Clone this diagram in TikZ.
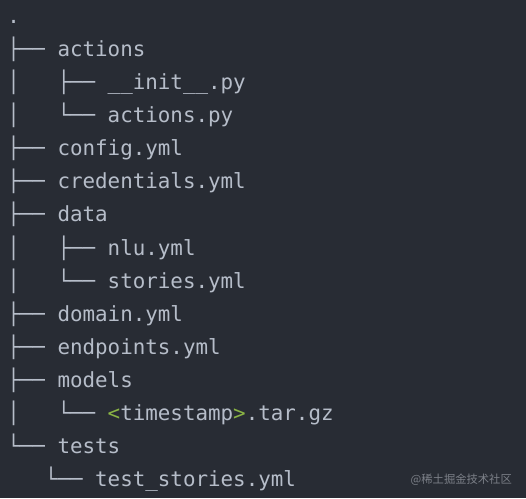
\documentclass[tikz,border=0pt]{standalone}
\usepackage{fontspec}
\newfontfamily\treemono{DejaVu Sans Mono}
\newfontfamily\cjk{Noto Sans CJK SC}
\definecolor{bgc}{HTML}{282C34}
\definecolor{txtc}{HTML}{B6BDC9}
\definecolor{grn}{HTML}{8AB445}
\definecolor{wmc}{HTML}{7C8088}
\tikzset{
  txt/.style={anchor=base west, inner sep=0pt, outer sep=0pt, text=txtc,
    font=\treemono\fontsize{20.85}{24}\selectfont},
  wm/.style={anchor=base east, inner sep=0pt, text=wmc,
    font=\cjk\fontsize{11.3}{13}\selectfont}
}
\newcommand{\cx}[1]{7.3+12.55*#1}
\newcommand{\ry}[1]{498-(57+33*#1)}
\begin{document}
\begin{tikzpicture}[x=1pt,y=1pt]
\fill[bgc] (0,0) rectangle (526,498);
\useasboundingbox (0,0) rectangle (526,498);
% row 0
\node[txt] (dot) at ({\cx{0}},{498-24}) {.};
% row 1
\node[txt] (t1) at ({\cx{0}},{\ry{0}}) {├──};
\node[txt] (n1) at ({\cx{4}},{\ry{0}}) {actions};
% row 2
\node[txt] (v2) at ({\cx{0}},{\ry{1}}) {│};
\node[txt] (t2) at ({\cx{4}},{\ry{1}}) {├──};
\node[txt] (n2) at ({\cx{8}},{\ry{1}}) {\_\_init\_\_.py};
% row 3
\node[txt] (v3) at ({\cx{0}},{\ry{2}}) {│};
\node[txt] (t3) at ({\cx{4}},{\ry{2}}) {└──};
\node[txt] (n3) at ({\cx{8}},{\ry{2}}) {actions.py};
% row 4
\node[txt] (t4) at ({\cx{0}},{\ry{3}}) {├──};
\node[txt] (n4) at ({\cx{4}},{\ry{3}}) {config.yml};
% row 5
\node[txt] (t5) at ({\cx{0}},{\ry{4}}) {├──};
\node[txt] (n5) at ({\cx{4}},{\ry{4}}) {credentials.yml};
% row 6
\node[txt] (t6) at ({\cx{0}},{\ry{5}}) {├──};
\node[txt] (n6) at ({\cx{4}},{\ry{5}}) {data};
% row 7
\node[txt] (v7) at ({\cx{0}},{\ry{6}}) {│};
\node[txt] (t7) at ({\cx{4}},{\ry{6}}) {├──};
\node[txt] (n7) at ({\cx{8}},{\ry{6}}) {nlu.yml};
% row 8
\node[txt] (v8) at ({\cx{0}},{\ry{7}}) {│};
\node[txt] (t8) at ({\cx{4}},{\ry{7}}) {└──};
\node[txt] (n8) at ({\cx{8}},{\ry{7}}) {stories.yml};
% row 9
\node[txt] (t9) at ({\cx{0}},{\ry{8}}) {├──};
\node[txt] (n9) at ({\cx{4}},{\ry{8}}) {domain.yml};
% row 10
\node[txt] (t10) at ({\cx{0}},{\ry{9}}) {├──};
\node[txt] (n10) at ({\cx{4}},{\ry{9}}) {endpoints.yml};
% row 11
\node[txt] (t11) at ({\cx{0}},{\ry{10}}) {├──};
\node[txt] (n11) at ({\cx{4}},{\ry{10}}) {models};
% row 12
\node[txt] (v12) at ({\cx{0}},{\ry{11}}) {│};
\node[txt] (t12) at ({\cx{4}},{\ry{11}}) {└──};
\node[txt] (n12) at ({\cx{8}},{\ry{11}}) {\textcolor{grn}{<}timestamp\textcolor{grn}{>}.tar.gz};
% row 13
\node[txt] (t13) at ({\cx{0}},{\ry{12}}) {└──};
\node[txt] (n13) at ({\cx{4}},{\ry{12}}) {tests};
% row 14
\node[txt] (t14) at ({\cx{3}},{\ry{13}}) {└──};
\node[txt] (n14) at ({\cx{7}},{\ry{13}}) {test\_stories.yml};
% watermark
\node[wm] (wmk) at (512,{498-483}) {@稀土掘金技术社区};
\end{tikzpicture}
\end{document}
